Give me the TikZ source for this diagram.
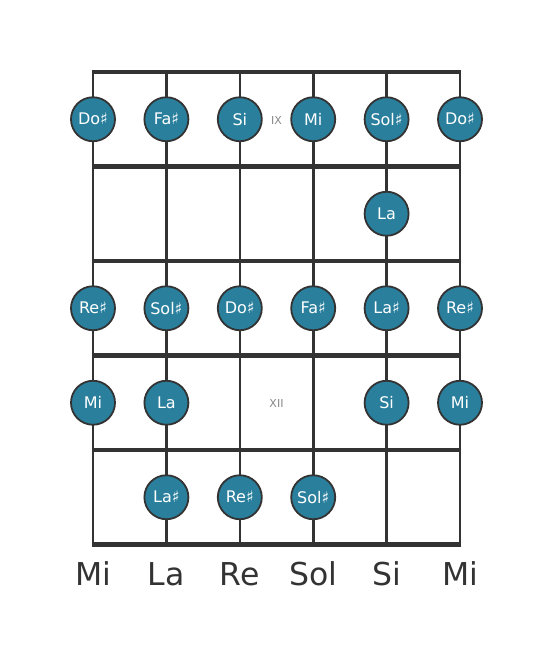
\documentclass[tikz,border=0pt]{standalone}
\usepackage{fontspec}
\setmainfont{DejaVu Sans}
\definecolor{notefill}{RGB}{42,127,157}
\definecolor{linegray}{RGB}{51,51,51}
\definecolor{markgray}{RGB}{136,136,136}
\begin{document}
\begin{tikzpicture}[x=1pt,y=-1pt,
  fretline/.style={draw=linegray,line width=4.5pt},
  stringline/.style={draw=linegray,line width=2.6pt},
  note/.style={circle,fill=notefill,draw=linegray,line width=1.8pt,minimum size=44pt,inner sep=0pt,text=white,font=\fontsize{16}{18}\selectfont},
  marker/.style={text=markgray,font=\fontsize{11}{13}\selectfont},
  strlabel/.style={text=linegray,font=\fontsize{31.5}{36}\selectfont}]
\useasboundingbox (0,0) rectangle (553,656);
\def\sx{73.4}
\def\fy{94.5}
% strings
\foreach \i in {0,...,5} {
  \coordinate (st\i) at (93+\i*\sx,72);
  \coordinate (sb\i) at (93+\i*\sx,544.5);
  \draw[stringline] (st\i) -- (sb\i);
}
% frets
\foreach \j in {0,...,5} {
  \coordinate (fl\j) at (91.7,72+\j*\fy);
  \coordinate (fr\j) at (461.3,72+\j*\fy);
  \draw[fretline] (fl\j) -- (fr\j);
}
% markers
\node[marker] (mIX) at (276.5,120) {IX};
\node[marker] (mXII) at (276.5,403.5) {XII};
% notes
\newcommand{\nt}[4]{\node[note] (#1) at (93+#2*\sx,119.25+#3*\fy) {#4};}
\nt{a0}{0}{0}{Do♯}
\nt{a1}{1}{0}{Fa♯}
\nt{a2}{2}{0}{Si}
\nt{a3}{3}{0}{Mi}
\nt{a4}{4}{0}{Sol♯}
\nt{a5}{5}{0}{Do♯}
\nt{b4}{4}{1}{La}
\nt{c0}{0}{2}{Re♯}
\nt{c1}{1}{2}{Sol♯}
\nt{c2}{2}{2}{Do♯}
\nt{c3}{3}{2}{Fa♯}
\nt{c4}{4}{2}{La♯}
\nt{c5}{5}{2}{Re♯}
\nt{d0}{0}{3}{Mi}
\nt{d1}{1}{3}{La}
\nt{d4}{4}{3}{Si}
\nt{d5}{5}{3}{Mi}
\nt{e1}{1}{4}{La♯}
\nt{e2}{2}{4}{Re♯}
\nt{e3}{3}{4}{Sol♯}
% string labels
\foreach \i/\t in {0/Mi,1/La,2/Re,3/Sol,4/Si,5/Mi}
  \node[strlabel,anchor=base] (lab\i) at (93+\i*\sx,585) {\t};
\end{tikzpicture}
\end{document}
